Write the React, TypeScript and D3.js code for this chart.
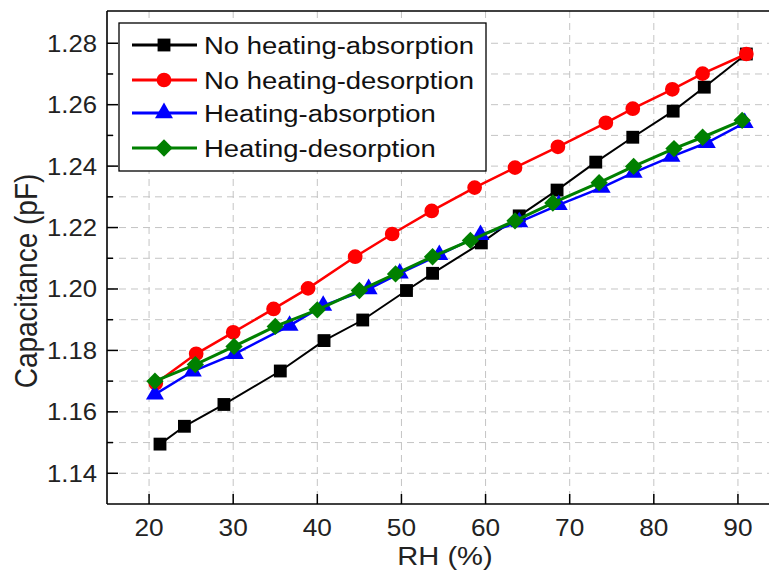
import React from "react";
import * as d3 from "d3";

// RH (%) for each series
const rhNoHeatAbs = [21.3, 24.2, 28.9, 35.6, 40.8, 45.4, 50.6, 53.7, 59.5, 64.0, 68.5, 73.1, 77.5, 82.3, 86.0, 91.0];
const capNoHeatAbs = [1.1495, 1.1553, 1.1624, 1.1733, 1.1832, 1.1899, 1.1995, 1.2051, 1.215, 1.2238, 1.2322, 1.2413, 1.2494, 1.2579, 1.2657, 1.2765];

const rhNoHeatDes = [20.8, 25.6, 30.0, 34.8, 38.9, 44.5, 48.9, 53.6, 58.7, 63.5, 68.6, 74.3, 77.5, 82.2, 85.8, 91.0];
const capNoHeatDes = [1.1693, 1.1789, 1.1859, 1.1935, 1.2002, 1.2105, 1.2179, 1.2254, 1.233, 1.2395, 1.2463, 1.2541, 1.2587, 1.265, 1.2701, 1.2765];

const rhHeatAbs = [20.7, 25.2, 30.2, 36.7, 40.7, 46.1, 49.8, 54.5, 59.4, 64.0, 68.7, 73.8, 77.6, 82.1, 86.3, 90.8];
const capHeatAbs = [1.1657, 1.1732, 1.1789, 1.1881, 1.1946, 1.2, 1.2051, 1.2111, 1.2176, 1.2218, 1.2274, 1.233, 1.2379, 1.2431, 1.2476, 1.2541];

const rhHeatDes = [20.7, 25.5, 30.1, 35.0, 40.0, 45.0, 49.3, 53.7, 58.2, 63.5, 68.0, 73.5, 77.6, 82.4, 85.8, 90.5];
const capHeatDes = [1.17, 1.1754, 1.1813, 1.1878, 1.1932, 1.1995, 1.2049, 1.2105, 1.2158, 1.2222, 1.228, 1.2346, 1.2399, 1.2457, 1.2494, 1.2549];

const seriesNames = ["No heating-absorption", "No heating-desorption", "Heating-absorption", "Heating-desorption"];
const xTicks = [20, 30, 40, 50, 60, 70, 80, 90];
const yTicks = [1.14, 1.16, 1.18, 1.2, 1.22, 1.24, 1.26, 1.28];
const yGrid = d3.range(1.14, 1.2851, 0.01);

const FONT = "'Liberation Sans', Arial, sans-serif";

const series = [
  { name: seriesNames[0], x: rhNoHeatAbs, y: capNoHeatAbs, color: "#000000", shape: "square", width: 2 },
  { name: seriesNames[1], x: rhNoHeatDes, y: capNoHeatDes, color: "#ff0000", shape: "circle", width: 2.5 },
  { name: seriesNames[2], x: rhHeatAbs, y: capHeatAbs, color: "#0000ff", shape: "triangle", width: 2.5 },
  { name: seriesNames[3], x: rhHeatDes, y: capHeatDes, color: "#008000", shape: "diamond", width: 3 },
];

// origin-style markers; the diamond is a square turned 45 degrees
const symbolOf = (shape: string) => {
  if (shape === "square") return { d: d3.symbol(d3.symbolSquare, 165)() || "", rot: 0 };
  if (shape === "circle") return { d: d3.symbol(d3.symbolCircle, 170)() || "", rot: 0 };
  if (shape === "triangle") return { d: d3.symbol(d3.symbolTriangle, 140)() || "", rot: 0 };
  return { d: d3.symbol(d3.symbolSquare, 150)() || "", rot: 45 };
};

export default function App() {
  const W = 769;
  const H = 571;
  const left = 107, top = 11, bottom = 504, right = 780;

  const x = d3.scaleLinear().domain([15, 95]).range([left, right]);
  const y = d3.scaleLinear().domain([1.13, 1.2905]).range([bottom, top]);

  const line = d3.line<[number, number]>().x((d) => x(d[0])).y((d) => y(d[1]));

  const legend = { x: 119, y: 23, w: 367, h: 148, rows: [45, 80, 113, 148] };

  return (
    <svg width={W} height={H} style={{ position: "absolute", left: 0, top: 0, background: "#fff" }} fontFamily={FONT}>
      <rect x={0} y={0} width={W} height={H} fill="#fff" />
      {/* grid */}
      {yGrid.map((v) => (
        <line key={"gy" + v} x1={left} x2={right} y1={y(v)} y2={y(v)} stroke="#c4c4c4" strokeWidth={1} strokeDasharray="7,5" />
      ))}
      {xTicks.map((v) => (
        <line key={"gx" + v} x1={x(v)} x2={x(v)} y1={top} y2={bottom} stroke="#c4c4c4" strokeWidth={1} strokeDasharray="7,5" />
      ))}

      {/* series */}
      {series.map((s) => {
        const pts = s.x.map((v, i) => [v, s.y[i]] as [number, number]);
        const sym = symbolOf(s.shape);
        return (
          <g key={s.name}>
            <path d={line(pts) || ""} fill="none" stroke={s.color} strokeWidth={s.width} />
            {pts.map((p, i) => (
              <path key={i} d={sym.d} transform={`translate(${x(p[0])},${y(p[1])}) rotate(${sym.rot})`} fill={s.color} />
            ))}
          </g>
        );
      })}

      {/* frame */}
      <line x1={left} x2={right} y1={top} y2={top} stroke="#000" strokeWidth={1.6} />
      <line x1={left} x2={right} y1={bottom} y2={bottom} stroke="#000" strokeWidth={1.6} />
      <line x1={left} x2={left} y1={top} y2={bottom} stroke="#000" strokeWidth={1.6} />

      {/* y ticks */}
      {yGrid.map((v, i) => (
        <line key={"ty" + i} x1={left} x2={left + (i % 2 === 0 ? 11 : 6)} y1={y(v)} y2={y(v)} stroke="#000" strokeWidth={1.5} />
      ))}
      {yTicks.map((v) => (
        <text key={"ly" + v} transform={`translate(97,${y(v)}) scale(1.07,1)`} dy="0.35em" textAnchor="end" fontSize={24} fill="#222">
          {d3.format(".2f")(v)}
        </text>
      ))}

      {/* x ticks */}
      {xTicks.map((v) => (
        <line key={"tx" + v} x1={x(v)} x2={x(v)} y1={bottom} y2={bottom - 10} stroke="#000" strokeWidth={1.5} />
      ))}
      {xTicks.map((v) => (
        <text key={"lx" + v} transform={`translate(${x(v)},536) scale(1.07,1)`} textAnchor="middle" fontSize={24.5} fill="#222">
          {v}
        </text>
      ))}

      {/* axis titles */}
      <text transform="translate(445,565) scale(1.12,1)" textAnchor="middle" fontSize={26} fill="#222">
        RH (%)
      </text>
      <text transform="translate(37,281) scale(1.13,1) rotate(-90)" textAnchor="middle" fontSize={28} fill="#222">
        Capacitance (pF)
      </text>

      {/* legend */}
      <rect x={legend.x} y={legend.y} width={legend.w} height={legend.h} fill="#fff" stroke="#000" strokeWidth={1.3} />
      {series.map((s, i) => {
        const sym = symbolOf(s.shape);
        return (
          <g key={"lg" + i}>
            <line x1={132} x2={197} y1={legend.rows[i]} y2={legend.rows[i]} stroke={s.color} strokeWidth={3} />
            <path d={sym.d} transform={`translate(164,${legend.rows[i]}) rotate(${sym.rot})`} fill={s.color} />
            <text transform={`translate(204,${legend.rows[i]}) scale(1.12,1)`} dy="0.36em" fontSize={24.5} fill="#111">
              {s.name}
            </text>
          </g>
        );
      })}
    </svg>
  );
}
